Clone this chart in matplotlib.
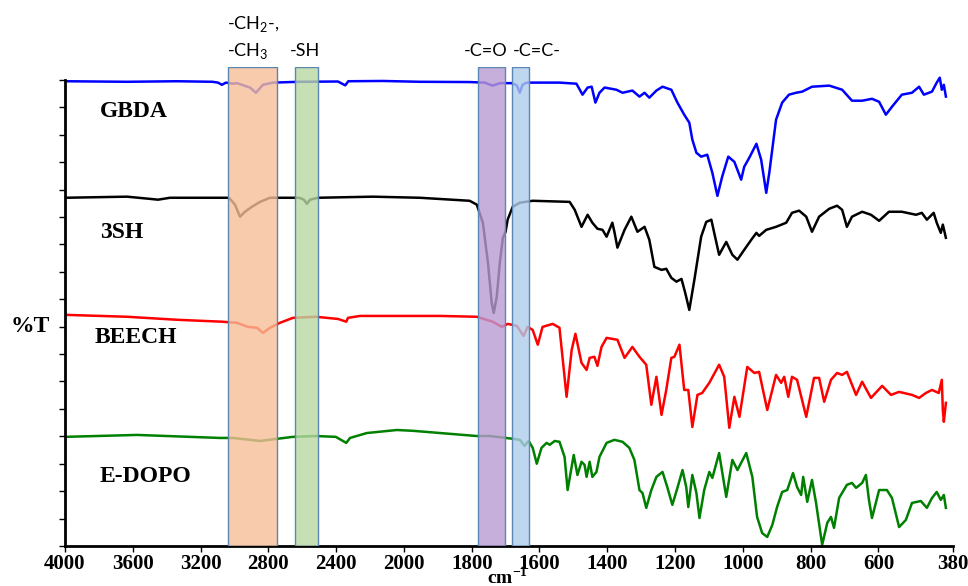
import numpy as np
import matplotlib
matplotlib.use("Agg")
import matplotlib.pyplot as plt

# ---- data (wavenumber cm-1, stacked %T in tick units) ----
gbda_wn = [4000, 3634, 3339, 3130, 3097, 3074, 3050, 3009, 2985, 2956, 2908, 2873, 2832, 2773,
           2617, 2389, 2346, 2328, 2125, 1953, 1806, 1762, 1738, 1717, 1682, 1667, 1658, 1650,
           1638, 1600, 1541, 1491, 1473, 1458, 1446, 1435, 1423, 1408, 1373, 1355, 1326, 1305,
           1290, 1276, 1255, 1237, 1211, 1193, 1173, 1158, 1149, 1137, 1123, 1105, 1090, 1075,
           1061, 1043, 1025, 1005, 996, 981, 960, 946, 931, 922, 902, 884, 864, 843, 825, 796,
           745, 707, 678, 648, 619, 598, 578, 560, 531, 501, 480, 466, 442, 428, 419, 413, 407, 401]
gbda_t = [16.95, 16.93, 16.95, 16.93, 16.90, 16.82, 16.90, 16.86, 16.88, 16.82, 16.72, 16.53, 16.82, 16.90,
          16.93, 16.94, 16.80, 16.95, 16.96, 16.93, 16.92, 16.90, 16.79, 16.88, 16.88, 16.80, 16.53, 16.82,
          16.90, 16.90, 16.90, 16.86, 16.46, 16.72, 16.75, 16.17, 16.53, 16.72, 16.64, 16.53, 16.61, 16.39,
          16.53, 16.35, 16.61, 16.75, 16.64, 16.17, 15.73, 15.44, 14.82, 14.34, 14.20, 14.27, 13.61, 12.77,
          13.47, 14.20, 14.01, 13.36, 13.83, 14.16, 14.67, 14.09, 12.88, 13.61, 15.55, 16.17, 16.46, 16.53, 16.57, 16.75,
          16.79, 16.64, 16.24, 16.24, 16.31, 16.20, 15.73, 16.02, 16.46, 16.53, 16.75, 16.46, 16.57, 16.90, 17.08, 16.64, 16.82, 16.39]

sh3_wn = [4000, 3634, 3499, 3451, 3380, 3038, 3026, 2997, 2967, 2938, 2897, 2849, 2790, 2617, 2590,
          2572, 2554, 2508, 2183, 1953, 1806, 1785, 1767, 1752, 1741, 1735, 1726, 1717, 1708, 1700,
          1694, 1679, 1658, 1620, 1511, 1496, 1476, 1458, 1444, 1429, 1414, 1402, 1385, 1379, 1370,
          1349, 1329, 1311, 1290, 1276, 1261, 1240, 1226, 1211, 1196, 1181, 1170, 1158, 1143, 1123,
          1108, 1093, 1078, 1070, 1049, 1031, 1016, 996, 975, 960, 952, 931, 902, 872, 855, 834, 813,
          796, 775, 745, 722, 707, 693, 678, 648, 622, 598, 569, 531, 489, 472, 457, 437, 428, 416, 410, 401]
sh3_t = [12.70, 12.74, 12.66, 12.63, 12.70, 12.70, 12.66, 12.45, 12.01, 12.19, 12.37, 12.55, 12.70, 12.70, 12.63,
         12.48, 12.63, 12.70, 12.74, 12.70, 12.59, 12.45, 11.79, 10.33, 8.87, 8.50, 9.09, 10.33, 11.24, 11.46,
         11.90, 12.37, 12.52, 12.59, 12.55, 12.26, 11.64, 12.08, 11.79, 11.57, 11.53, 11.28, 11.79, 11.46, 10.88,
         11.53, 12.01, 11.46, 11.64, 11.17, 10.18, 10.07, 10.11, 9.78, 9.64, 9.74, 9.23, 8.61, 9.71, 11.28,
         11.82, 11.90, 11.06, 10.62, 11.09, 10.62, 10.44, 10.80, 11.17, 11.42, 11.31, 11.53, 11.64, 11.79, 12.15, 12.23, 12.01,
         11.46, 12.01, 12.30, 12.41, 12.26, 11.64, 12.01, 12.19, 12.08, 11.86, 12.19, 12.19, 12.08, 12.15, 11.90, 12.15, 11.79, 11.42, 11.72, 11.24]

beech_wn = [4000, 3634, 3339, 3074, 2985, 2920, 2867, 2832, 2790, 2731, 2655, 2520, 2389, 2340, 2330,
            2259, 1894, 1785, 1738, 1711, 1694, 1667, 1647, 1635, 1620, 1605, 1591, 1561, 1541, 1520,
            1505, 1494, 1476, 1461, 1452, 1438, 1429, 1417, 1402, 1370, 1349, 1326, 1305, 1285, 1270,
            1255, 1240, 1226, 1211, 1202, 1187, 1173, 1161, 1149, 1134, 1120, 1099, 1070, 1055, 1040,
            1025, 1010, 987, 966, 952, 928, 902, 887, 878, 866, 855, 840, 813, 790, 775, 760, 740, 722,
            707, 693, 666, 648, 622, 589, 563, 539, 501, 480, 460, 442, 422, 413, 410, 407, 401]
beech_t = [8.43, 8.36, 8.25, 8.18, 8.14, 7.99, 7.96, 7.77, 7.96, 8.14, 8.32, 8.36, 8.28, 8.18, 8.32,
           8.39, 8.39, 8.36, 8.18, 7.99, 8.10, 8.03, 7.66, 7.99, 7.88, 7.34, 7.99, 8.10, 7.96, 5.44,
           7.15, 7.74, 6.68, 6.42, 6.86, 6.90, 6.57, 7.26, 7.59, 7.52, 6.86, 7.26, 6.90, 6.61, 5.15,
           6.17, 4.78, 5.69, 6.86, 6.90, 7.34, 5.69, 5.69, 4.34, 5.51, 5.58, 5.95, 6.61, 6.17, 4.31,
           5.44, 4.71, 6.53, 6.31, 6.35, 4.96, 6.24, 5.95, 6.17, 5.44, 6.17, 6.06, 4.71, 6.13, 6.13, 5.26, 6.06, 6.31,
           6.24, 6.35, 5.51, 5.99, 5.40, 5.84, 5.51, 5.62, 5.51, 5.40, 5.58, 5.69, 5.58, 6.06, 4.96, 4.53, 5.22]

edopo_wn = [4000, 3575, 3085, 3009, 2849, 2655, 2520, 2402, 2340, 2318, 2218, 2041, 1973, 1894,
            1785, 1746, 1679, 1658, 1644, 1632, 1620, 1608, 1594, 1579, 1570, 1555, 1541, 1526, 1517,
            1499, 1488, 1476, 1467, 1461, 1452, 1444, 1432, 1423, 1402, 1379, 1355, 1335, 1320, 1305,
            1296, 1285, 1270, 1255, 1237, 1223, 1208, 1193, 1178, 1167, 1161, 1149, 1137, 1128, 1114,
            1099, 1090, 1070, 1049, 1031, 1016, 990, 972, 958, 943, 928, 913, 899, 884, 869, 852, 840,
            828, 822, 810, 796, 784, 766, 751, 740, 731, 716, 693, 678, 666, 648, 637, 628, 619, 598,
            575, 560, 539, 519, 501, 475, 457, 442, 428, 416, 407, 401]
edopo_t = [3.98, 4.05, 3.94, 3.94, 3.83, 3.98, 4.01, 3.98, 3.76, 3.94, 4.12, 4.23, 4.20, 4.12,
           4.01, 4.01, 3.91, 3.87, 3.65, 3.83, 3.58, 3.00, 3.58, 3.76, 3.69, 3.83, 3.80, 3.25, 2.04,
           3.32, 2.59, 3.07, 2.96, 2.52, 3.07, 2.52, 2.70, 3.25, 3.76, 3.87, 3.80, 3.58, 3.14, 2.04,
           1.93, 1.39, 2.04, 2.52, 2.70, 2.15, 1.50, 2.12, 2.77, 2.15, 1.42, 2.59, 1.93, 1.02, 2.04,
           2.70, 2.48, 3.39, 1.79, 3.14, 2.77, 3.39, 2.52, 1.06, 0.47, 0.33, 0.77, 1.42, 1.97, 2.04, 2.66, 2.15,
           1.86, 2.52, 1.61, 2.41, 1.57, 0.04, 0.84, 1.06, 0.66, 1.75, 2.23, 2.30, 2.12, 2.30, 2.59, 1.68, 1.02, 2.04,
           2.04, 1.75, 0.69, 0.95, 1.57, 1.64, 1.39, 1.75, 1.97, 1.68, 1.86, 1.39]

series_names = ["GBDA", "3SH", "BEECH", "E-DOPO"]
series_colors = ["#0000ff", "black", "#ff0000", "#008000"]
label_pos = [(3794, 15.84), (3794, 11.42), (3823, 7.59), (3794, 2.52)]

# highlighted bands (high, low wavenumber)
band_ranges = [(3038, 2749), (2643, 2508), (1782, 1703), (1682, 1632)]
band_colors = ["#f5be97", "#b8d8a1", "#ba9bd3", "#aeccea"]
band_labels = ["-CH$_\\mathregular{2}$-,\n-CH$_\\mathregular{3}$", "-SH", "-C=O", "-C=C-"]
band_label_pos = [(3044, 18.55), (2584, 18.07), (1759, 18.07), (1608, 18.07)]
band_label_ha = ["left", "center", "center", "center"]

xticks = [4000, 3600, 3200, 2800, 2400, 2000, 1800, 1600, 1400, 1200, 1000, 800, 600, 380]


# scale change at 2000 cm-1 (like the instrument plot)
def fwd(x):
    x = np.asarray(x, dtype=float)
    return np.where(x >= 2000, (x - 2000) / 400.0, (x - 2000) / 200.0)


def inv(u):
    u = np.asarray(u, dtype=float)
    return np.where(u >= 0, 2000 + u * 400.0, 2000 + u * 200.0)


fig = plt.figure(figsize=(9.68, 5.86), dpi=100)
ax = fig.add_axes([0.0671, 0.0683, 0.9174, 0.8174])
ax.set_xscale("function", functions=(fwd, inv))

all_wn = [gbda_wn, sh3_wn, beech_wn, edopo_wn]
all_t = [gbda_t, sh3_t, beech_t, edopo_t]
for wn, t, c in zip(all_wn, all_t, series_colors):
    ax.plot(wn, t, color=c, lw=1.8, zorder=2)

for (hi, lo), fc in zip(band_ranges, band_colors):
    ax.axvspan(hi, lo, ymin=0, ymax=1, facecolor=fc, alpha=0.8,
               edgecolor="none", zorder=3)
    ax.axvspan(hi, lo, ymin=0, ymax=1, facecolor="none",
               edgecolor="#5b87b5", lw=1.0, zorder=4)

for txt, (x, y), ha in zip(band_labels, band_label_pos, band_label_ha):
    ax.text(x, y, txt, ha=ha, va="center", fontsize=13, family="Lato",
            linespacing=1.5, multialignment="left", clip_on=False)

for name, (x, y) in zip(series_names, label_pos):
    ax.text(x, y, name, ha="left", va="center", fontsize=17, fontweight="bold",
            family="Liberation Serif")

fig.text(0.0105, 0.442, "%T", ha="left", va="center", fontsize=17,
         fontweight="bold", family="Liberation Serif")

ax.set_xlim(4000, 380)
ax.set_ylim(0, 17.47)
ax.set_xticks(xticks)
ax.set_xticklabels([str(v) for v in xticks], fontsize=15, fontweight="bold",
                   family="Liberation Serif")
ax.set_yticks(np.arange(0, 18))
ax.set_yticklabels([])
ax.tick_params(axis="both", direction="out", length=4, width=1, pad=2)
ax.xaxis.set_minor_locator(matplotlib.ticker.NullLocator())

for s in ["top", "right"]:
    ax.spines[s].set_visible(False)
ax.spines["left"].set_bounds(0, 17)
ax.spines["left"].set_linewidth(2)
ax.spines["bottom"].set_linewidth(2)

ax.text(0.498, -0.04, "cm$^{\\mathregular{-1}}$", transform=ax.transAxes,
        ha="center", va="top", fontsize=14, fontweight="bold",
        family="Liberation Serif")

fig.savefig("out.png", dpi=100)
